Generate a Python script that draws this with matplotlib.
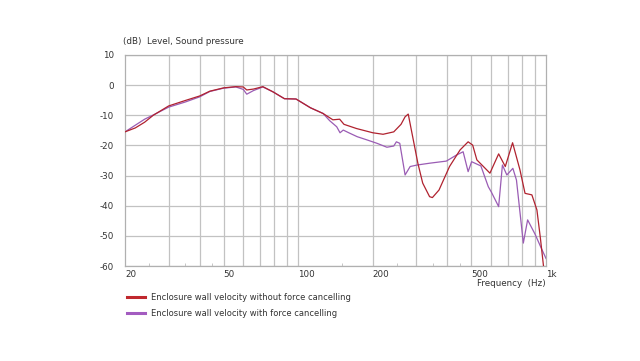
import numpy as np
import matplotlib
matplotlib.use('Agg')
import matplotlib.pyplot as plt
from matplotlib.ticker import FixedLocator, NullFormatter

# Frequency response (Hz, dB)
freq_red = [20, 22, 24, 26, 30, 35, 40, 44, 50, 56, 60, 62, 66, 72, 79, 88, 98, 112, 126,
            138, 147, 153, 172, 200, 220, 243, 260, 270, 278, 304, 318, 339, 348, 370, 408,
            450, 485, 506, 526, 559, 594, 644, 685, 733, 785, 823, 877, 919, 950, 980]
db_red = [-15.5, -14.2, -12.3, -10.0, -6.9, -5.1, -3.6, -2.0, -0.9, -0.5, -0.6, -1.6, -1.3,
          -0.5, -2.2, -4.5, -4.6, -7.5, -9.4, -11.5, -11.3, -13.0, -14.4, -15.8, -16.3, -15.5,
          -13.0, -10.5, -9.6, -25.9, -32.5, -37.0, -37.3, -34.8, -27.0, -21.5, -18.8, -19.9,
          -24.8, -27.0, -29.2, -22.8, -27.0, -19.1, -28.1, -35.9, -36.4, -41.4, -51.0, -61.0]

freq_purple = [20, 22, 24, 26, 30, 35, 40, 44, 50, 56, 60, 62, 66, 72, 79, 88, 98, 112, 126,
               134, 143, 147.5, 152, 160, 173, 190, 208, 228, 243, 249, 257, 270, 283, 302,
               339, 396, 435, 463, 485, 501, 546, 585, 602, 644, 667, 695, 735, 760, 810,
               843, 904, 950, 1000]
db_purple = [-15.5, -13.3, -11.3, -9.9, -7.3, -5.6, -3.9, -2.1, -1.0, -0.6, -1.4, -3.0, -1.8,
             -0.6, -2.2, -4.5, -4.6, -7.5, -9.4, -11.8, -13.8, -15.8, -14.9, -15.8, -17.1,
             -18.2, -19.3, -20.6, -20.2, -18.8, -19.3, -29.8, -27.0, -26.5, -25.9, -25.2,
             -23.2, -22.1, -28.7, -25.4, -26.8, -33.7, -35.5, -40.3, -26.5, -29.8, -27.6,
             -31.5, -52.4, -44.7, -49.5, -53.5, -57.5]

major_ticks = [20, 50, 100, 200, 500, 1000]
major_labels = ['20', '50', '100', '200', '500', '1k']
grid_freqs = [30, 40, 50, 60, 70, 80, 90, 100, 200, 300, 400, 500, 600, 700, 800, 900]
small_ticks = [25, 35, 45, 150, 250, 350, 450]
db_ticks = [10, 0, -10, -20, -30, -40, -50, -60]

plt.rcParams['font.family'] = ['DejaVu Sans']
plt.rcParams['axes.unicode_minus'] = False

fig = plt.figure(figsize=(6.4, 3.61), dpi=100)
ax = fig.add_axes([125 / 640, 1 - 266 / 361, 421 / 640, 211 / 361])

grid_color = '#c2c2c2'
for f in grid_freqs:
    ax.axvline(f, color=grid_color, lw=0.9, zorder=1)
for d in db_ticks:
    ax.axhline(d, color=grid_color, lw=0.9, zorder=1)

ax.plot(freq_red, db_red, color='#b0222f', lw=0.9, zorder=3)
ax.plot(freq_purple, db_purple, color='#9a5cb4', lw=0.9, zorder=2)

ax.set_xscale('log')
ax.set_xlim(20, 1000)
ax.set_ylim(-60, 10)

ax.xaxis.set_major_locator(FixedLocator(major_ticks))
ax.xaxis.set_minor_locator(FixedLocator(small_ticks))
ax.xaxis.set_minor_formatter(NullFormatter())
ax.set_xticklabels(major_labels)
for lab in ax.get_xticklabels():
    lab.set_horizontalalignment('left')
ax.tick_params(axis='x', which='major', length=0, pad=3, labelsize=6.3, colors='#333333')
ax.tick_params(axis='x', which='minor', direction='in', length=2.5, color='#bdbdbd')
ax.set_yticks(db_ticks)
ax.tick_params(axis='y', length=0, pad=8, labelsize=6.3, colors='#333333')

for s in ax.spines.values():
    s.set_color('#b0b0b0')
    s.set_linewidth(0.9)

fig.text(123 / 640, 1 - 42 / 361, '(dB)  Level, Sound pressure', fontsize=6.3,
         color='#333333', va='center', ha='left')
fig.text(546 / 640, 1 - 283.5 / 361, 'Frequency  (Hz)', fontsize=6.3,
         color='#333333', va='center', ha='right')

# legend drawn by hand at the bottom
legend_items = [('Enclosure wall velocity without force cancelling', '#c0282e'),
                ('Enclosure wall velocity with force cancelling', '#a35cc0')]
for i, (txt, col) in enumerate(legend_items):
    yy = 1 - (297 + 16 * i) / 361
    fig.add_artist(plt.Line2D([127 / 640, 145 / 640], [yy, yy], color=col, lw=2.2))
    fig.text(151 / 640, yy, txt, fontsize=6.0, color='#333333', va='center', ha='left')

fig.savefig('out.png', dpi=100)
plt.close()
